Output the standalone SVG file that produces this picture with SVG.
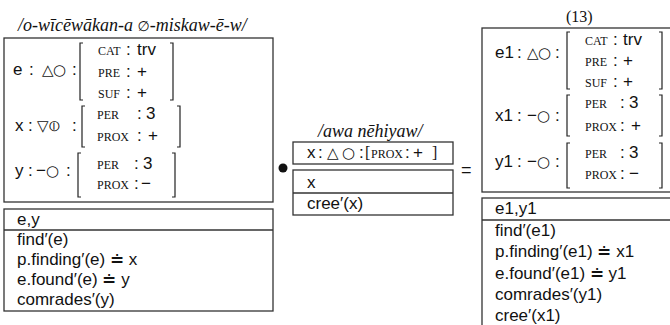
<svg xmlns="http://www.w3.org/2000/svg" width="670" height="325" viewBox="0 0 670 325">
<style>
.s{font-family:"Liberation Sans",Arial,sans-serif;font-size:17px;fill:#111}
.sc{font-family:"Liberation Serif","Times New Roman",serif;font-size:12px;fill:#111}
.sy{font-family:"DejaVu Sans",sans-serif;font-size:15px;fill:#111}
.it{font-family:"Liberation Serif","Times New Roman",serif;font-style:italic;font-size:18px;fill:#111}
.sf{font-family:"Liberation Serif","Times New Roman",serif;font-size:16px;fill:#111}
.bx{fill:none;stroke:#333;stroke-width:1.3}
.br{fill:none;stroke:#222;stroke-width:1.2}
</style>
<rect width="670" height="325" fill="#fff"/>
<g id="connectors"/>

<g id="left">
<text class="it" x="18" y="31">/o-wīcēwākan-a <tspan style="font-style:normal;font-family:'DejaVu Sans',sans-serif;font-size:14px">∅</tspan>-miskaw-ē-w/</text>
<rect class="bx" x="4" y="38" width="269" height="164"/>
<!-- e row -->
<text class="s" x="13" y="75">e</text><text class="s" x="29" y="75">:</text>
<text class="sy" x="42" y="75">△</text><text class="sy" x="53" y="75">○</text>
<text class="s" x="72" y="75">:</text>
<path class="br" d="M83,43H80V100H83M170,43H173V100H170"/>
<text class="sc" x="98" y="55">CAT</text><text class="s" x="126" y="55">:</text><text class="s" x="137" y="55">trv</text>
<text class="sc" x="98" y="77">PRE</text><text class="s" x="126" y="77">:</text><text class="s" x="137" y="77">+</text>
<text class="sc" x="98" y="98">SUF</text><text class="s" x="126" y="98">:</text><text class="s" x="137" y="98">+</text>
<!-- x row -->
<text class="s" x="15" y="131">x</text><text class="s" x="28" y="131">:</text>
<text class="sy" x="37" y="131">▽</text><text class="sy" x="49" y="131">⦶</text>
<text class="s" x="72" y="131">:</text>
<path class="br" d="M85,106H82V147H85M177,106H180V147H177"/>
<text class="sc" x="97" y="119">PER</text><text class="s" x="137" y="119">:</text><text class="s" x="146" y="119">3</text>
<text class="sc" x="97" y="141">PROX</text><text class="s" x="137" y="141">:</text><text class="s" x="148" y="141">+</text>
<!-- y row -->
<text class="s" x="15" y="176">y</text><text class="s" x="28" y="176">:</text>
<text class="s" x="36" y="176">−</text><text class="sy" x="46" y="176">○</text>
<text class="s" x="66" y="176">:</text>
<path class="br" d="M81,153H78V197H81M172,153H175V197H172"/>
<text class="sc" x="97" y="169">PER</text><text class="s" x="134" y="169">:</text><text class="s" x="143" y="169">3</text>
<text class="sc" x="97" y="189">PROX</text><text class="s" x="134" y="189">:</text><text class="s" x="141" y="189">−</text>
<!-- lower box -->
<rect class="bx" x="4" y="209" width="269" height="102"/>
<line class="bx" x1="4" y1="230" x2="273" y2="230"/>
<text class="s" x="17" y="225">e,y</text>
<text class="s" x="17" y="245">find′(e)</text>
<text class="s" x="17" y="265">p.finding′(e) ≐ x</text>
<text class="s" x="17" y="285">e.found′(e) ≐ y</text>
<text class="s" x="17" y="305">comrades′(y)</text>
</g>

<g id="bullet">
<circle cx="283" cy="168" r="4.5" fill="#111"/>
</g>

<g id="middle">
<text class="it" x="318" y="137">/awa nēhiyaw/</text>
<rect class="bx" x="293" y="142" width="160" height="22"/>
<text class="s" x="307" y="158">x</text><text class="s" x="318" y="158">:</text>
<text class="sy" x="327" y="158">△</text><text class="sy" x="342" y="158">○</text>
<text class="s" x="359" y="158">:</text>
<text class="sf" x="365" y="158">[</text><text class="sc" x="371" y="158">PROX</text>
<text class="s" x="405" y="158">:</text><text class="s" x="413" y="158">+</text><text class="sf" x="432" y="158">]</text>
<rect class="bx" x="293" y="170" width="160" height="45"/>
<line class="bx" x1="293" y1="193" x2="453" y2="193"/>
<text class="s" x="307" y="188">x</text>
<text class="s" x="307" y="209">cree′(x)</text>
</g>

<g id="equals">
<text class="s" x="461" y="176" style="font-size:18px">=</text>
</g>

<g id="right">
<text class="sf" x="566" y="22">(13)</text>
<rect class="bx" x="482" y="28" width="200" height="164"/>
<!-- e1 -->
<text class="s" x="495" y="58">e1</text><text class="s" x="517" y="58">:</text>
<text class="sy" x="527" y="58">△</text><text class="sy" x="538" y="58">○</text>
<text class="s" x="555" y="58">:</text>
<path class="br" d="M570,32H567V89H570M659,32H662V89H659"/>
<text class="sc" x="585" y="45">CAT</text><text class="s" x="613" y="45">:</text><text class="s" x="623" y="45">trv</text>
<text class="sc" x="585" y="66">PRE</text><text class="s" x="613" y="66">:</text><text class="s" x="623" y="66">+</text>
<text class="sc" x="585" y="87">SUF</text><text class="s" x="613" y="87">:</text><text class="s" x="623" y="87">+</text>
<!-- x1 -->
<text class="s" x="495" y="121">x1</text><text class="s" x="517" y="121">:</text>
<text class="s" x="527" y="121">−</text><text class="sy" x="537" y="121">○</text>
<text class="s" x="555" y="121">:</text>
<path class="br" d="M570,95H567V136H570M659,95H662V136H659"/>
<text class="sc" x="585" y="108">PER</text><text class="s" x="620" y="108">:</text><text class="s" x="629" y="108">3</text>
<text class="sc" x="585" y="131">PROX</text><text class="s" x="620" y="131">:</text><text class="s" x="631" y="131">+</text>
<!-- y1 -->
<text class="s" x="495" y="167">y1</text><text class="s" x="517" y="167">:</text>
<text class="s" x="527" y="167">−</text><text class="sy" x="537" y="167">○</text>
<text class="s" x="555" y="167">:</text>
<path class="br" d="M570,143H567V188H570M659,143H662V188H659"/>
<text class="sc" x="585" y="158">PER</text><text class="s" x="620" y="158">:</text><text class="s" x="629" y="158">3</text>
<text class="sc" x="585" y="179">PROX</text><text class="s" x="620" y="179">:</text><text class="s" x="629" y="179">−</text>
<!-- lower -->
<rect class="bx" x="482" y="198" width="200" height="140"/>
<line class="bx" x1="482" y1="220" x2="682" y2="220"/>
<text class="s" x="495" y="214">e1,y1</text>
<text class="s" x="495" y="236">find′(e1)</text>
<text class="s" x="495" y="257">p.finding′(e1) ≐ x1</text>
<text class="s" x="495" y="279">e.found′(e1) ≐ y1</text>
<text class="s" x="495" y="300">comrades′(y1)</text>
<text class="s" x="495" y="321">cree′(x1)</text>
</g>
</svg>
